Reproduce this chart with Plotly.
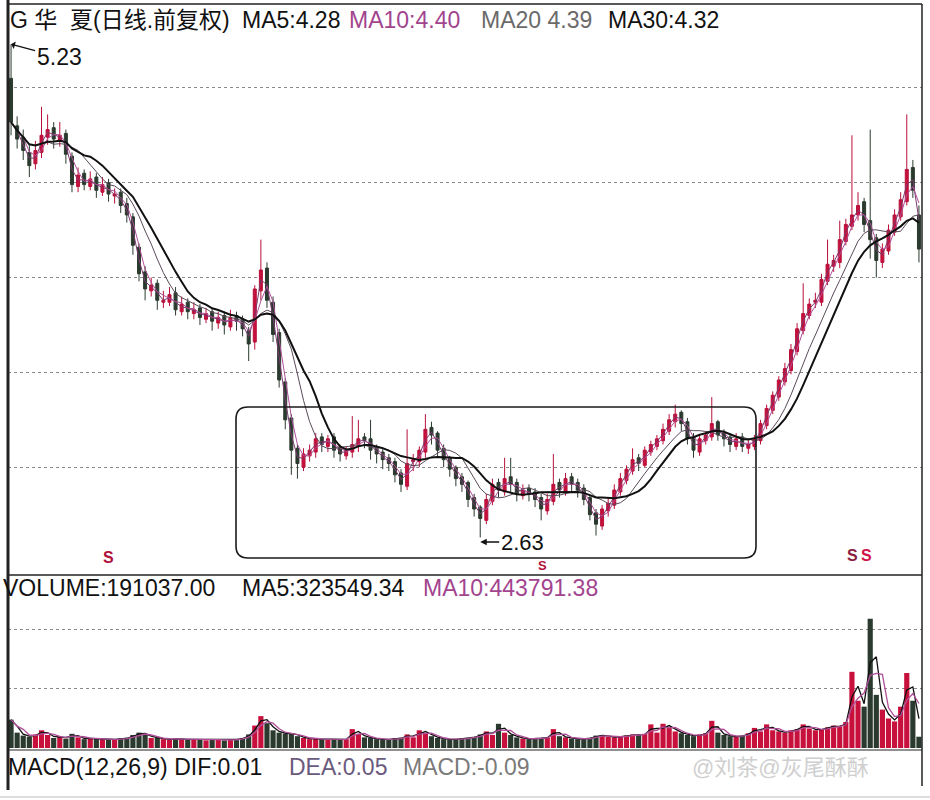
import plotly.graph_objects as go
import pandas as pd

W, H_ = 930, 800

# ---------------- data ----------------
# Each bar below stands for roughly three trading days of the original daily chart,
# so the MA windows are expressed in these bars (5/10/20/30 days -> 2/3/7/10 bars).
opens = [
5.05, 4.80, 4.74, 4.66, 4.60, 4.66, 4.74, 4.79, 4.72, 4.76,
4.64, 4.48, 4.55, 4.48, 4.53, 4.45, 4.50, 4.43, 4.45, 4.39,
4.32, 4.16, 4.03, 3.93, 3.97, 3.87, 3.87, 3.92, 3.82, 3.87,
3.81, 3.84, 3.78, 3.82, 3.76, 3.80, 3.74, 3.80, 3.78, 3.72,
3.66, 3.93, 4.05, 3.87, 3.71, 3.45, 3.26, 3.10, 3.00, 3.06,
3.08, 3.16, 3.11, 3.16, 3.10, 3.06, 3.08, 3.11, 3.16, 3.15,
3.10, 3.08, 3.05, 3.03, 2.97, 2.90, 3.03, 3.03, 3.08, 3.21,
3.18, 3.10, 3.05, 3.00, 2.95, 2.92, 2.84, 2.79, 2.72, 2.82,
2.92, 2.87, 2.95, 2.92, 2.85, 2.89, 2.87, 2.84, 2.77, 2.82,
2.92, 2.87, 2.95, 2.92, 2.89, 2.84, 2.76, 2.69, 2.77, 2.80,
2.87, 2.93, 2.98, 3.05, 3.01, 3.08, 3.11, 3.14, 3.19, 3.24,
3.29, 3.24, 3.16, 3.08, 3.14, 3.16, 3.24, 3.18, 3.16, 3.11,
3.16, 3.10, 3.11, 3.14, 3.22, 3.30, 3.37, 3.45, 3.51, 3.61,
3.72, 3.80, 3.87, 3.87, 3.98, 4.06, 4.08, 4.19, 4.27, 4.33,
4.40, 4.30, 4.21, 4.08, 4.14, 4.24, 4.32, 4.40, 4.58, 4.33,
]
highs = [
5.23, 4.85, 4.78, 4.70, 4.72, 4.90, 4.86, 4.82, 4.82, 4.78,
4.66, 4.58, 4.57, 4.56, 4.55, 4.53, 4.52, 4.47, 4.47, 4.42,
4.34, 4.18, 4.06, 4.00, 3.99, 3.93, 3.95, 3.95, 3.90, 3.89,
3.87, 3.86, 3.84, 3.84, 3.82, 3.82, 3.83, 3.82, 3.80, 3.74,
3.96, 4.20, 4.08, 3.90, 3.73, 3.47, 3.28, 3.12, 3.10, 3.12,
3.18, 3.18, 3.17, 3.18, 3.12, 3.11, 3.27, 3.25, 3.18, 3.25,
3.12, 3.10, 3.07, 3.05, 2.99, 3.20, 3.07, 3.11, 3.28, 3.24,
3.19, 3.12, 3.06, 3.01, 2.97, 2.93, 2.86, 2.80, 2.86, 2.94,
2.94, 3.05, 3.05, 2.94, 2.91, 2.91, 2.89, 2.86, 2.86, 3.07,
2.94, 2.97, 2.97, 2.94, 2.91, 2.85, 2.78, 2.80, 2.84, 2.91,
2.97, 3.01, 3.10, 3.07, 3.11, 3.14, 3.17, 3.23, 3.28, 3.33,
3.30, 3.26, 3.18, 3.17, 3.19, 3.37, 3.25, 3.20, 3.18, 3.18,
3.18, 3.15, 3.17, 3.25, 3.33, 3.40, 3.48, 3.55, 3.65, 3.76,
3.97, 3.89, 3.92, 4.02, 4.20, 4.12, 4.30, 4.31, 4.75, 4.45,
4.42, 4.78, 4.23, 4.18, 4.28, 4.36, 4.45, 4.86, 4.62, 4.38,
]
lows = [
4.75, 4.68, 4.62, 4.53, 4.57, 4.63, 4.70, 4.68, 4.69, 4.60,
4.45, 4.45, 4.46, 4.46, 4.42, 4.43, 4.40, 4.39, 4.34, 4.29,
4.12, 3.98, 3.88, 3.90, 3.83, 3.84, 3.85, 3.80, 3.80, 3.78,
3.78, 3.75, 3.76, 3.72, 3.73, 3.70, 3.72, 3.72, 3.69, 3.56,
3.62, 3.88, 3.84, 3.66, 3.42, 3.20, 2.96, 2.94, 2.98, 3.03,
3.05, 3.08, 3.08, 3.05, 3.03, 3.04, 3.05, 3.08, 3.10, 3.04,
3.02, 2.99, 2.98, 2.92, 2.87, 2.88, 2.98, 3.00, 3.05, 3.12,
3.05, 3.00, 2.95, 2.90, 2.87, 2.79, 2.74, 2.63, 2.70, 2.80,
2.84, 2.85, 2.87, 2.82, 2.83, 2.82, 2.79, 2.72, 2.75, 2.80,
2.84, 2.85, 2.87, 2.84, 2.80, 2.72, 2.64, 2.67, 2.74, 2.78,
2.85, 2.91, 2.96, 2.98, 3.00, 3.06, 3.09, 3.12, 3.17, 3.21,
3.19, 3.12, 3.05, 3.06, 3.12, 3.14, 3.14, 3.11, 3.08, 3.09,
3.08, 3.07, 3.09, 3.12, 3.20, 3.28, 3.35, 3.43, 3.49, 3.59,
3.70, 3.78, 3.84, 3.85, 3.96, 4.03, 4.05, 4.17, 4.25, 4.30,
4.24, 4.10, 4.00, 4.05, 4.12, 4.22, 4.30, 4.38, 4.42, 4.08,
]
closes = [
4.82, 4.73, 4.67, 4.59, 4.67, 4.75, 4.78, 4.73, 4.75, 4.65,
4.49, 4.54, 4.49, 4.52, 4.46, 4.49, 4.44, 4.44, 4.38, 4.33,
4.17, 4.02, 3.94, 3.96, 3.88, 3.88, 3.91, 3.83, 3.86, 3.82,
3.83, 3.79, 3.81, 3.77, 3.79, 3.75, 3.79, 3.77, 3.73, 3.65,
3.94, 4.04, 3.88, 3.70, 3.46, 3.25, 3.09, 3.02, 3.07, 3.09,
3.15, 3.12, 3.15, 3.09, 3.07, 3.09, 3.12, 3.15, 3.14, 3.09,
3.07, 3.04, 3.02, 2.96, 2.91, 3.02, 3.04, 3.09, 3.20, 3.17,
3.09, 3.04, 2.99, 2.94, 2.91, 2.83, 2.78, 2.73, 2.83, 2.91,
2.88, 2.94, 2.91, 2.86, 2.88, 2.86, 2.83, 2.78, 2.83, 2.91,
2.88, 2.94, 2.91, 2.88, 2.83, 2.75, 2.70, 2.78, 2.81, 2.88,
2.94, 2.99, 3.04, 3.02, 3.09, 3.12, 3.15, 3.20, 3.25, 3.28,
3.23, 3.15, 3.09, 3.15, 3.17, 3.23, 3.17, 3.15, 3.12, 3.15,
3.11, 3.12, 3.15, 3.23, 3.31, 3.38, 3.46, 3.52, 3.62, 3.73,
3.81, 3.86, 3.88, 3.99, 4.07, 4.09, 4.20, 4.28, 4.33, 4.38,
4.28, 4.20, 4.09, 4.15, 4.25, 4.33, 4.41, 4.57, 4.46, 4.15,
]
volumes = [
480000, 260000, 210000, 190000, 230000, 300000, 220000, 170000, 200000, 160000,
240000, 180000, 150000, 170000, 160000, 150000, 140000, 150000, 160000, 170000,
220000, 260000, 230000, 170000, 180000, 150000, 140000, 160000, 150000, 140000,
150000, 140000, 130000, 150000, 140000, 130000, 140000, 150000, 170000, 230000,
380000, 540000, 420000, 300000, 260000, 240000, 250000, 200000, 170000, 150000,
160000, 150000, 140000, 150000, 140000, 150000, 320000, 240000, 180000, 170000,
150000, 140000, 150000, 160000, 170000, 230000, 180000, 300000, 260000, 200000,
170000, 150000, 140000, 150000, 160000, 170000, 190000, 230000, 280000, 220000,
410000, 260000, 220000, 180000, 160000, 150000, 160000, 170000, 180000, 320000,
200000, 180000, 160000, 150000, 160000, 170000, 210000, 220000, 190000, 180000,
200000, 210000, 230000, 220000, 240000, 400000, 260000, 410000, 350000, 280000,
250000, 220000, 200000, 230000, 250000, 460000, 260000, 220000, 200000, 190000,
210000, 250000, 340000, 280000, 400000, 300000, 280000, 260000, 300000, 320000,
400000, 330000, 300000, 320000, 350000, 380000, 360000, 440000, 1290000, 800000,
700000, 2190000, 900000, 650000, 500000, 450000, 700000, 1270000, 800000, 191037,
]
ma_windows = [2, 3, 7, 10]          # bars, for MA5 / MA10 / MA20 / MA30
vol_ma_windows = [2, 3]             # bars, for volume MA5 / MA10
price_grid = [3.0, 3.5, 4.0, 4.5, 5.0]
volume_grid = [1000000, 2000000]
header_parts = ["G 华  夏(日线.前复权)", "MA5:4.28", "MA10:4.40", "MA20 4.39", "MA30:4.32"]
volume_parts = ["VOLUME:191037.00", "MA5:323549.34", "MA10:443791.38"]
macd_parts = ["MACD(12,26,9) DIF:0.01", "DEA:0.05", "MACD:-0.09"]
max_label, min_label = "5.23", "2.63"
watermark = "@刘茶@灰尾酥酥"

# ---------------- helpers ----------------
def px(x):
    return x / W

def py(y):
    return 1 - y / H_

idx = list(range(len(closes)))
cs = pd.Series(closes)
vs = pd.Series(volumes)

UP = "#c8103c"
DOWN = "#2b3a2e"
FONT = "Liberation Sans, Arial, Noto Sans CJK SC, sans-serif"

fig = go.Figure()

fig.add_trace(go.Candlestick(
    x=idx, open=opens, high=highs, low=lows, close=closes,
    increasing=dict(line=dict(color="#b8103a", width=1), fillcolor=UP),
    decreasing=dict(line=dict(color=DOWN, width=1), fillcolor=DOWN),
    whiskerwidth=0, xaxis="x", yaxis="y", showlegend=False, hoverinfo="skip"))

ma_styles = [("#7a3a6e", 1), ("#b0509a", 1), ("#5a4a5a", 1), ("#111111", 2)]
for n, (col, wdt) in zip(ma_windows, ma_styles):
    fig.add_trace(go.Scatter(x=idx, y=cs.rolling(n, min_periods=1).mean(), mode="lines",
                             line=dict(color=col, width=wdt), xaxis="x", yaxis="y",
                             showlegend=False, hoverinfo="skip"))

bar_colors = [UP if c >= o else DOWN for o, c in zip(opens, closes)]
fig.add_trace(go.Bar(x=idx, y=volumes, marker=dict(color=bar_colors, line=dict(width=0)),
                     xaxis="x2", yaxis="y2", showlegend=False, hoverinfo="skip"))
for n, col in zip(vol_ma_windows, ["#111111", "#b0509a"]):
    fig.add_trace(go.Scatter(x=idx, y=vs.rolling(n, min_periods=1).mean(), mode="lines",
                             line=dict(color=col, width=1.3), xaxis="x2", yaxis="y2",
                             showlegend=False, hoverinfo="skip"))

xdom = [px(8), px(922)]
common_x = dict(domain=xdom, range=[-0.5, len(closes) - 0.5], showticklabels=False,
                showgrid=False, zeroline=False, showline=False, ticks="", fixedrange=True)

fig.update_layout(
    width=W, height=H_, margin=dict(l=0, r=0, t=0, b=0),
    paper_bgcolor="white", plot_bgcolor="white", bargap=0.15,
    xaxis=dict(**common_x, anchor="y", rangeslider=dict(visible=False)),
    xaxis2=dict(**common_x, anchor="y2", matches="x"),
    yaxis=dict(domain=[py(575), py(8)], range=[2.432, 5.421], tickvals=price_grid,
               showticklabels=False, showgrid=True, gridcolor="#8a8a8a", griddash="dot",
               gridwidth=1, zeroline=False, showline=False, ticks=""),
    yaxis2=dict(domain=[py(750), py(575)], range=[-34000, 2930000], tickvals=volume_grid,
                showticklabels=False, showgrid=True, gridcolor="#8a8a8a", griddash="dot",
                gridwidth=1, zeroline=False, showline=False, ticks=""),
)

shapes = []
def line(x0, y0, x1, y1, color="#222222", width=1.5):
    shapes.append(dict(type="line", xref="paper", yref="paper", x0=px(x0), y0=py(y0),
                       x1=px(x1), y1=py(y1), line=dict(color=color, width=width)))

line(8, 0, 8, 790, width=3)
line(8, 4, 922, 4, width=1.5)
line(922, 4, 922, 786, width=1.5)
line(8, 575, 922, 575, width=1.5)
line(8, 750, 922, 750, width=1)
line(0, 797, 930, 797, color="#bbbbbb", width=1)

# rounded rectangle around the bottoming zone
x0, x1, y0, y1, r = 236, 756, 407, 558, 12
def P(x, y):
    return f"{px(x):.5f},{py(y):.5f}"
path = (f"M {P(x0 + r, y0)} L {P(x1 - r, y0)} Q {P(x1, y0)} {P(x1, y0 + r)} "
        f"L {P(x1, y1 - r)} Q {P(x1, y1)} {P(x1 - r, y1)} L {P(x0 + r, y1)} "
        f"Q {P(x0, y1)} {P(x0, y1 - r)} L {P(x0, y0 + r)} Q {P(x0, y0)} {P(x0 + r, y0)} Z")
shapes.append(dict(type="path", xref="paper", yref="paper", path=path,
                   line=dict(color="#1a1a1a", width=1.6)))
fig.update_layout(shapes=shapes)

ann = []
def text(x, y, s, color="#111111", size=23, anchor="left"):
    ann.append(dict(x=px(x), y=py(y), xref="paper", yref="paper", text=s, showarrow=False,
                    xanchor=anchor, yanchor="middle", font=dict(family=FONT, size=size, color=color)))

# header
text(8, 20, header_parts[0])
text(240, 20, header_parts[1])
text(347, 20, header_parts[2], color="#a2448e")
text(479, 20, header_parts[3], color="#6a6a6a")
text(606, 20, header_parts[4])
# volume header
text(1, 588, volume_parts[0])
text(240, 588, volume_parts[1])
text(421, 588, volume_parts[2], color="#a2448e")
# macd header
text(6, 767, macd_parts[0])
text(287, 767, macd_parts[1], color="#6a5a7e")
text(401, 767, macd_parts[2], color="#7a7a7a")
# watermark
text(690, 767, watermark, color="#cfcfcf", size=22)

# S markers
for sx, sy, sz, col in [(108, 557, 16, "#b0103a"), (542, 565, 13, "#b0103a"),
                        (852, 555, 16, "#8a2040"), (866, 555, 16, "#d0104a")]:
    text(sx, sy, "<b>S</b>", color=col, size=sz, anchor="center")

# max / min labels
ann.append(dict(x=0, y=highs[0], xref="x", yref="y", text=max_label, showarrow=True,
                ax=48, ay=13, arrowhead=1, arrowsize=1, arrowwidth=1.3, arrowcolor="#111111",
                font=dict(family=FONT, size=23, color="#111111")))
low_i = lows.index(min(lows))
ann.append(dict(x=low_i, y=py(542), xref="x", yref="paper", text=min_label, showarrow=True,
                ax=42, ay=0, arrowhead=2, arrowsize=1, arrowwidth=1.3, arrowcolor="#111111",
                standoff=0, font=dict(family=FONT, size=22, color="#111111")))
fig.update_layout(annotations=ann)

fig.write_html("out.html", config={"displayModeBar": False},
               post_script="document.body.style.margin='0px';")
